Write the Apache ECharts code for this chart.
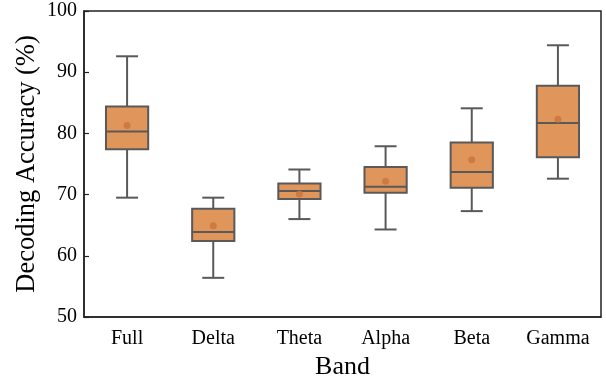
<!DOCTYPE html>
<html>
<head>
<meta charset="utf-8">
<script src="https://cdn.jsdelivr.net/npm/echarts@6/dist/echarts.min.js"></script>
<style>html,body{margin:0;padding:0;background:#fff}#c{width:606px;height:381px}</style>
</head>
<body>
<div id="c"></div>
<script>
const categories = ['Full', 'Delta', 'Theta', 'Alpha', 'Beta', 'Gamma'];
const lowWhisker = [69.5, 56.4, 66.0, 64.3, 67.3, 72.6];
const q1 = [77.4, 62.4, 69.3, 70.3, 71.1, 76.1];
const median = [80.3, 63.9, 70.6, 71.3, 73.7, 81.7];
const q3 = [84.4, 67.7, 71.8, 74.5, 78.5, 87.8];
const highWhisker = [92.6, 69.5, 74.1, 77.9, 84.1, 94.4];
const means = [81.3, 64.9, 70.1, 72.2, 75.7, 82.3];
const yTicks = [50, 60, 70, 80, 90, 100];

const FONT = "'Liberation Serif', 'DejaVu Serif', serif";
const LINE = '#595959';
const FILL = '#e0965b';
const MEANC = '#c9733a';

const boxData = categories.map((c, i) => [i, lowWhisker[i], q1[i], median[i], q3[i], highWhisker[i]]);
const meanData = categories.map((c, i) => [i, means[i]]);

function renderBox(params, api) {
  const i = api.value(0);
  const bw = api.size([1, 0])[0] * 0.49;
  const cw = bw * 0.52;
  const pLow = api.coord([i, api.value(1)]);
  const pQ1 = api.coord([i, api.value(2)]);
  const pMed = api.coord([i, api.value(3)]);
  const pQ3 = api.coord([i, api.value(4)]);
  const pHigh = api.coord([i, api.value(5)]);
  const x = pQ1[0];
  const ls = { stroke: LINE, lineWidth: 2 };
  return {
    type: 'group',
    children: [
      { type: 'line', shape: { x1: x, y1: pHigh[1], x2: x, y2: pQ3[1] }, style: ls },
      { type: 'line', shape: { x1: x, y1: pQ1[1], x2: x, y2: pLow[1] }, style: ls },
      { type: 'line', shape: { x1: x - cw / 2, y1: pHigh[1], x2: x + cw / 2, y2: pHigh[1] }, style: ls },
      { type: 'line', shape: { x1: x - cw / 2, y1: pLow[1], x2: x + cw / 2, y2: pLow[1] }, style: ls },
      { type: 'rect', shape: { x: x - bw / 2, y: pQ3[1], width: bw, height: pQ1[1] - pQ3[1] }, style: { fill: FILL, stroke: LINE, lineWidth: 2 } },
      { type: 'line', shape: { x1: x - bw / 2, y1: pMed[1], x2: x + bw / 2, y2: pMed[1] }, style: ls }
    ]
  };
}

const chart = echarts.init(document.getElementById('c'), null, { renderer: 'canvas' });
chart.setOption({
  animation: false,
  backgroundColor: '#fff',
  grid: { left: 84, right: 5, top: 11, bottom: 64, show: true, borderColor: '#222', borderWidth: 1.5, containLabel: false, outerBoundsMode: 'none' },
  xAxis: {
    type: 'category',
    data: categories,
    boundaryGap: true,
    name: 'Band',
    nameLocation: 'middle',
    nameGap: 37,
    nameMoveOverlap: false,
    nameTextStyle: { fontFamily: FONT, fontSize: 26, color: '#000' },
    axisLine: { show: true, lineStyle: { color: '#222', width: 1.5 } },
    axisTick: { show: false },
    axisLabel: { fontFamily: FONT, fontSize: 20, color: '#000', margin: 12 },
    splitLine: { show: false }
  },
  yAxis: {
    type: 'value',
    min: yTicks[0],
    max: yTicks[yTicks.length - 1],
    interval: 10,
    name: 'Decoding Accuracy (%)',
    nameLocation: 'middle',
    nameGap: 43,
    nameMoveOverlap: false,
    nameTextStyle: { fontFamily: FONT, fontSize: 26.5, color: '#000' },
    axisLine: { show: true, lineStyle: { color: '#222', width: 1.5 } },
    axisTick: { show: true, inside: true, length: 5, lineStyle: { color: '#222', width: 1.2 } },
    axisLabel: { fontFamily: FONT, fontSize: 20, color: '#000', margin: 7 },
    splitLine: { show: false }
  },
  series: [
    { type: 'custom', renderItem: renderBox, data: boxData, encode: { x: 0, y: [1, 2, 3, 4, 5] }, z: 2 },
    { type: 'scatter', data: meanData, symbol: 'circle', symbolSize: 7, itemStyle: { color: MEANC }, z: 3 }
  ]
});
</script>
</body>
</html>
